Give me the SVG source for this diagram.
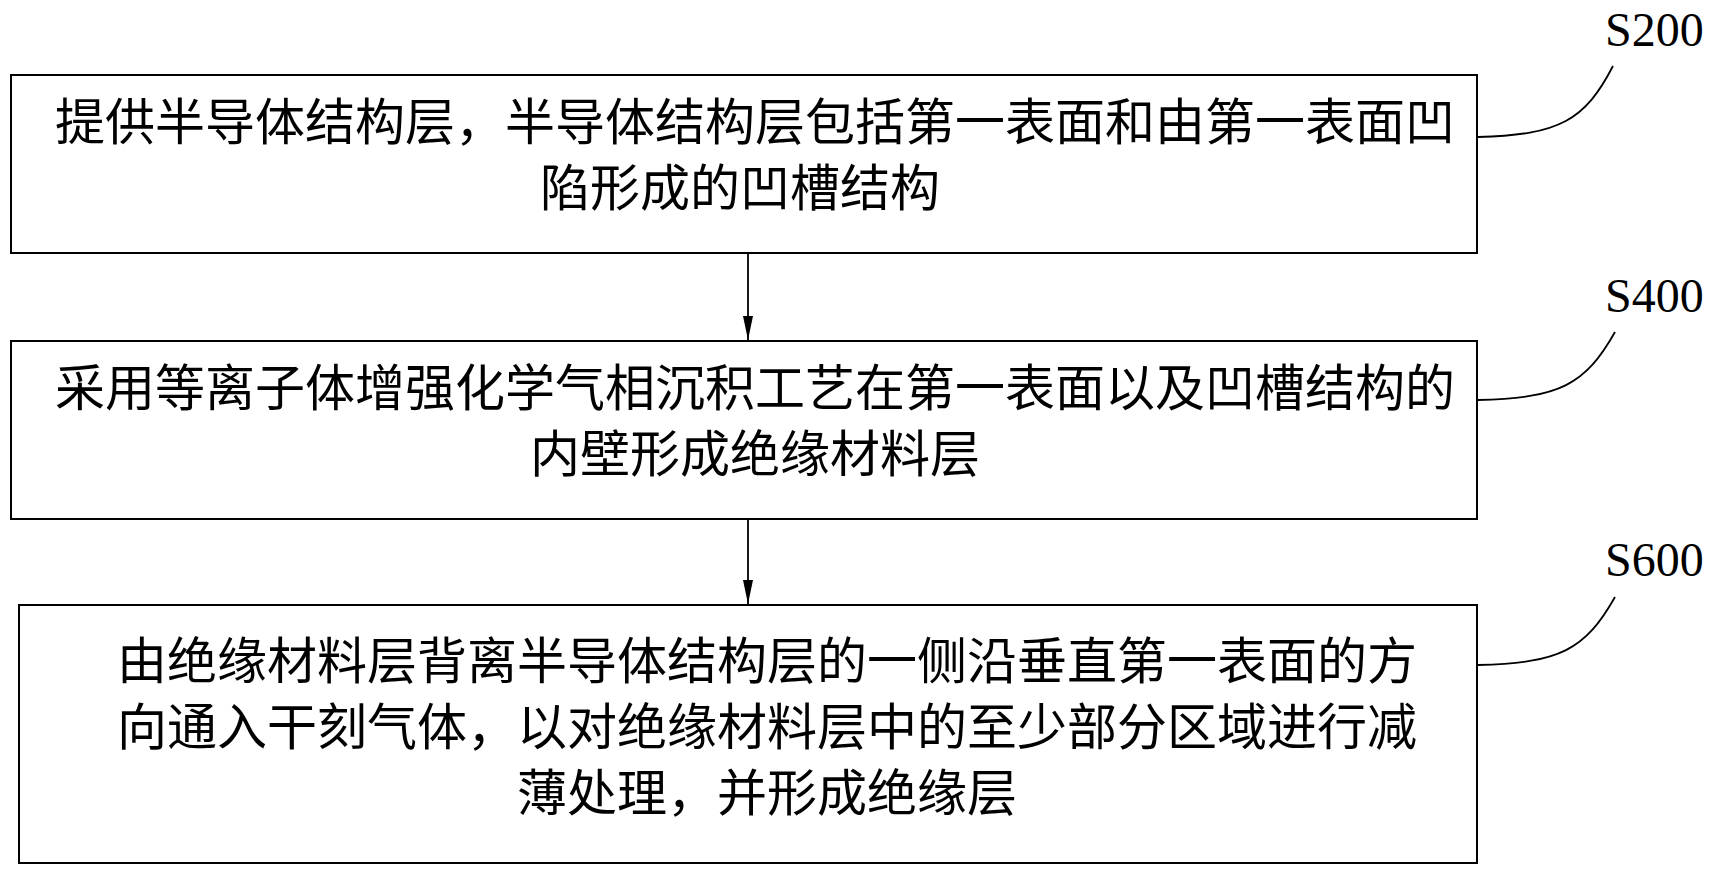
<svg xmlns="http://www.w3.org/2000/svg" width="1724" height="874" viewBox="0 0 1724 874">
<style>
.box{fill:#fff;stroke:#000;stroke-width:2}
.t{font-family:"Liberation Serif","Noto Sans CJK SC",serif;font-size:50px;fill:#000;text-anchor:middle}
.l{font-family:"Liberation Serif",serif;font-size:48px;fill:#000}
.c{fill:none;stroke:#000;stroke-width:1.8}
</style>
<defs><marker id="a" markerWidth="24" markerHeight="10" refX="24" refY="5" orient="auto" markerUnits="userSpaceOnUse" viewBox="0 0 24 10"><path d="M0,0 L24,5 L0,10 Z" fill="#000"/></marker></defs>
<rect width="1724" height="874" fill="#fff"/>
<g id="n1"><rect class="box" x="11" y="75" width="1466" height="178"/>
<text class="t" x="755" y="140">提供半导体结构层，半导体结构层包括第一表面和由第一表面凹</text>
<text class="t" x="740" y="206">陷形成的凹槽结构</text></g>
<g id="n2"><rect class="box" x="11" y="341" width="1466" height="178"/>
<text class="t" x="755" y="406">采用等离子体增强化学气相沉积工艺在第一表面以及凹槽结构的</text>
<text class="t" x="755" y="472">内壁形成绝缘材料层</text></g>
<g id="n3"><rect class="box" x="19" y="605" width="1458" height="258"/>
<text class="t" x="767" y="679">由绝缘材料层背离半导体结构层的一侧沿垂直第一表面的方</text>
<text class="t" x="767" y="745">向通入干刻气体，以对绝缘材料层中的至少部分区域进行减</text>
<text class="t" x="767" y="811">薄处理，并形成绝缘层</text></g>
<g id="labels">
<text class="l" x="1605" y="46">S200</text>
<text class="l" x="1605" y="312">S400</text>
<text class="l" x="1605" y="576">S600</text></g>
<g id="connectors">
<line class="c" x1="748" y1="253" x2="748" y2="340" marker-end="url(#a)"/>
<line class="c" x1="748" y1="519" x2="748" y2="604" marker-end="url(#a)"/>
<path class="c" d="M1478,137 C1560,135 1585,120 1613,66"/>
<path class="c" d="M1478,400 C1560,398 1585,385 1615,332"/>
<path class="c" d="M1478,665 C1560,663 1585,650 1615,597"/>
</g>
</svg>
